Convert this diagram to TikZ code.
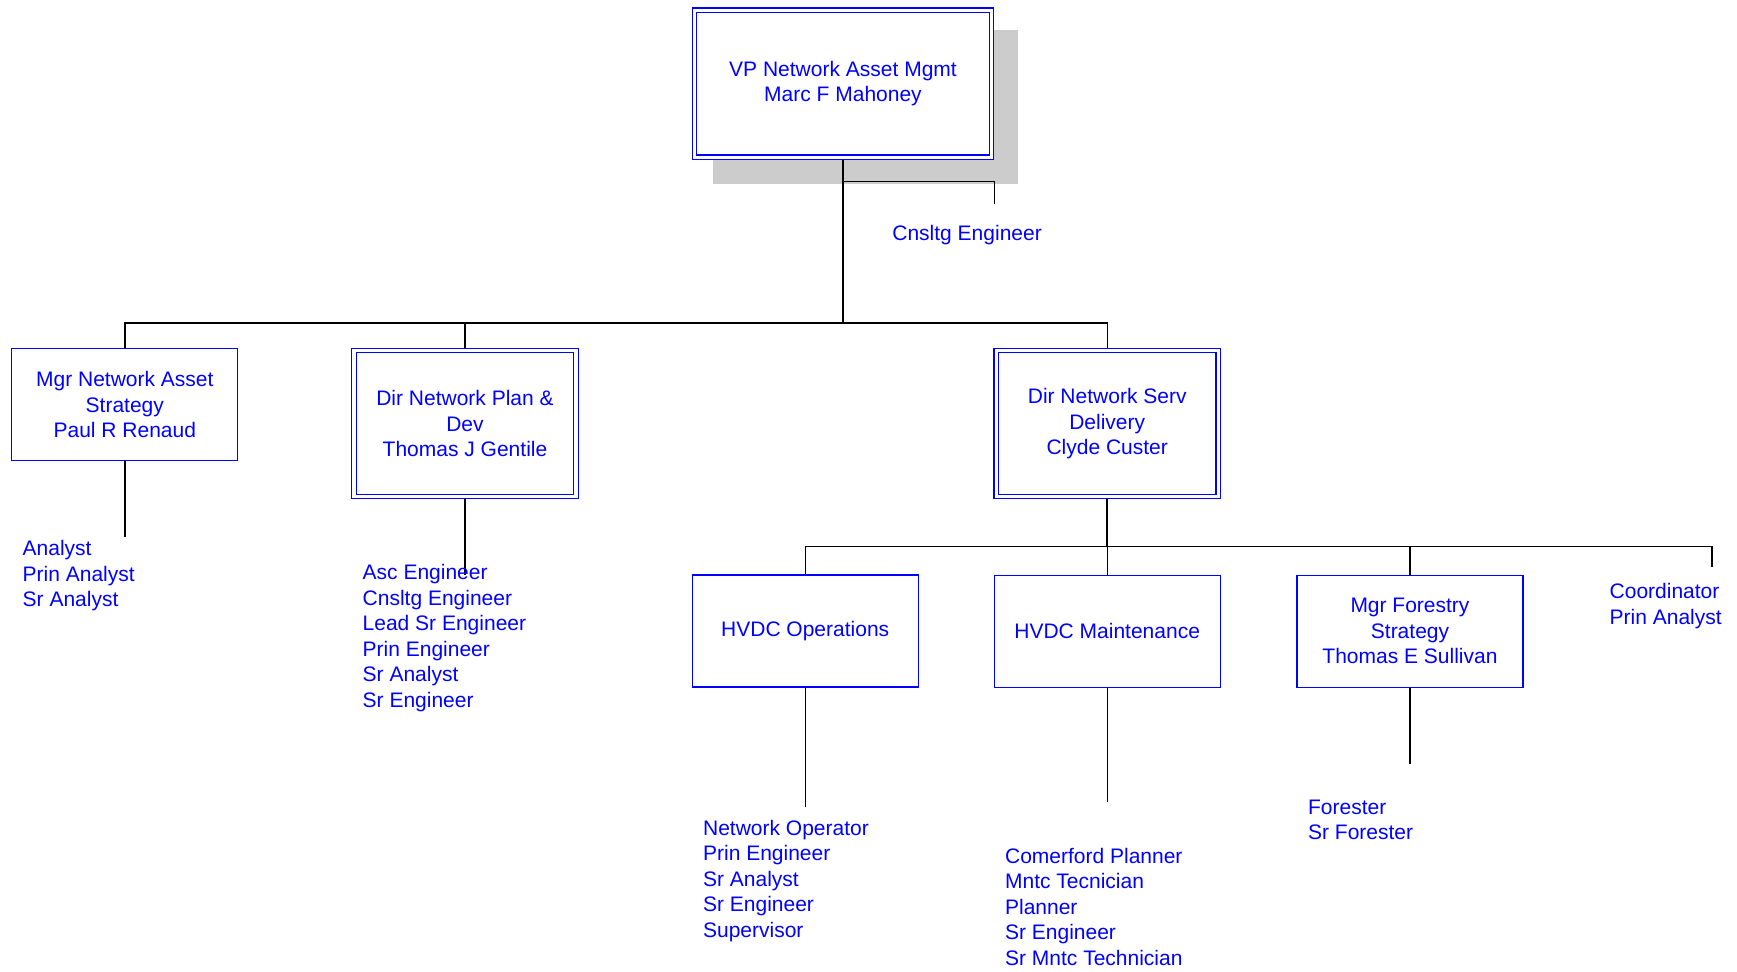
\documentclass[tikz,border=0pt]{standalone}
\usepackage{fontspec}
\setmainfont{Liberation Sans}
\usetikzlibrary{backgrounds}

\definecolor{orgblue}{RGB}{0,0,255}
\definecolor{shadowgray}{RGB}{204,204,204}

\tikzset{
	orgbox/.style={draw=orgblue,line width=.6pt,fill=white,text=orgblue,align=center,
		minimum width=113pt,minimum height=56pt,inner sep=2pt},
	dirbox/.style={orgbox,double=white,double distance=1.65pt,
		minimum width=111pt,minimum height=73pt},
	staff/.style={text=orgblue,align=left,anchor=base west,inner sep=0pt},
	orgline/.style={draw=black,line width=.7pt}
}

\begin{document}
\begin{tikzpicture}[x=.5pt,y=-.5pt,font=\fontsize{10.5}{12.75}\selectfont]
	\useasboundingbox (0,0) rectangle (1737,971);

	% boxes
	\node[dirbox,minimum width=148.5pt,minimum height=73.5pt] (vp) at (843,83.7) {VP Network Asset Mgmt\\Marc F Mahoney};
	\node[orgbox] (strat) at (124.8,404.7) {Mgr Network Asset\\Strategy\\Paul R Renaud};
	\node[dirbox] (plan) at (465,423.6) {Dir Network Plan \&\\Dev\\Thomas J Gentile};
	\node[dirbox] (serv) at (1107.2,423.6) {Dir Network Serv\\Delivery\\Clyde Custer};
	\node[orgbox] (ops) at (805.2,631) {HVDC Operations};
	\node[orgbox] (maint) at (1107.2,631.2) {HVDC Maintenance};
	\node[orgbox] (forest) at (1410,631.2) {Mgr Forestry\\Strategy\\Thomas E Sullivan};

	% staff lists (placed at the baseline of their last line)
	\node[staff] (vpstaff) at (892,240.7) {Cnsltg Engineer};
	\node[staff] (stratstaff) at (22.3,606.5) {Analyst\\Prin Analyst\\Sr Analyst};
	\node[staff] (planstaff) at (362.3,707.4) {Asc Engineer\\Cnsltg Engineer\\Lead Sr Engineer\\Prin Engineer\\Sr Analyst\\Sr Engineer};
	\node[staff] (opsstaff) at (702.7,937.2) {Network Operator\\Prin Engineer\\Sr Analyst\\Sr Engineer\\Supervisor};
	\node[staff] (maintstaff) at (1004.7,965.1) {Comerford Planner\\Mntc Tecnician\\Planner\\Sr Engineer\\Sr Mntc Technician};
	\node[staff] (foreststaff) at (1307.7,839.7) {Forester\\Sr Forester};
	\node[staff] (servstaff) at (1609.3,624.3) {Coordinator\\Prin Analyst};

	% junctions and line ends
	\coordinate (top) at (843,323);
	\coordinate (vpfork) at (843,181.7);
	\coordinate (vpend) at (994.3,204);
	\coordinate (mid) at (1107.2,546.7);
	\coordinate (servend) at (1712,567.3);
	\coordinate (stratend) at (124.8,536.7);
	\coordinate (planend) at (465,575);
	\coordinate (opsend) at (805.2,806.7);
	\coordinate (maintend) at (1107.2,802);
	\coordinate (forestend) at (1410,764);

	\begin{scope}[on background layer]
		\fill[shadowgray] ([shift={(19,20)}]vp.north west) rectangle ([shift={(26,26)}]vp.south east);
		\draw[orgline] (vp.south) -- (top);
		\draw[orgline] (vpfork) -| (vpend);
		\draw[orgline] (strat.north) |- (top) -| (serv.north);
		\draw[orgline] (plan.north) -- (plan.north |- top);
		\draw[orgline,line width=1pt] (serv.south) -- (mid);
		\draw[orgline] (ops.north) |- (mid) -| (servend);
		\draw[orgline] (maint.north) -- (mid);
		\draw[orgline] (forest.north) -- (forest.north |- mid);
		\draw[orgline] (strat.south) -- (stratend);
		\draw[orgline] (plan.south) -- (planend);
		\draw[orgline] (ops.south) -- (opsend);
		\draw[orgline] (maint.south) -- (maintend);
		\draw[orgline] (forest.south) -- (forestend);
	\end{scope}
\end{tikzpicture}
\end{document}
